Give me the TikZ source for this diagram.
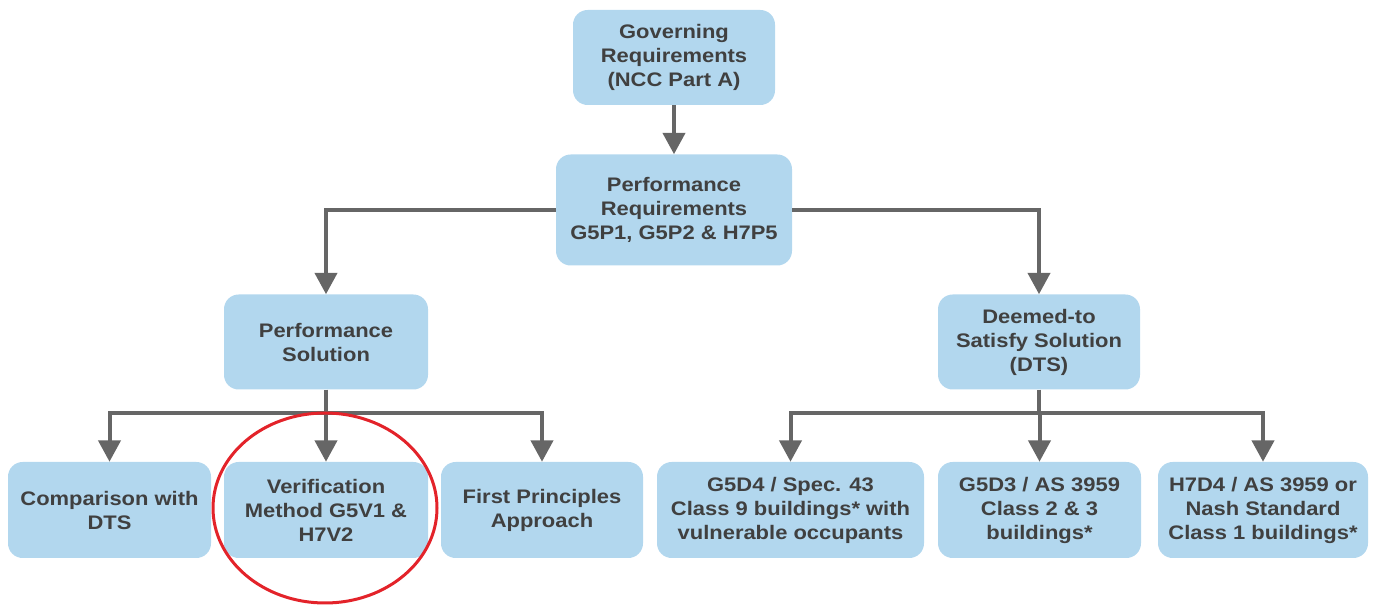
\documentclass[tikz,border=0pt]{standalone}
\usepackage{fontspec}
\setmainfont{Liberation Sans}[FakeStretch=1.12]
\usetikzlibrary{arrows.meta}
\definecolor{boxblue}{HTML}{B2D7EE}
\definecolor{txtgrey}{HTML}{404040}
\definecolor{arrgrey}{HTML}{666666}
\definecolor{ringred}{HTML}{E3232A}

\begin{document}
\begin{tikzpicture}[x=0.75pt, y=-0.75pt,
  box/.style={fill=boxblue, rounded corners=11pt, text=txtgrey, align=center,
    font=\bfseries\fontsize{14.7}{18}\selectfont, inner sep=0pt, minimum height=71.25pt},
  arr/.style={draw=arrgrey, line width=3pt, -{Triangle[width=16.5pt, length=16pt]}}]
\useasboundingbox (0,0) rectangle (1375,605);
\node[box, minimum width=151.5pt] (gov) at (674,57.5) {Governing\\Requirements\\(NCC Part A)};
\node[box, minimum width=177pt, minimum height=83.25pt] (perfreq) at (674,210) {Performance\\Requirements\\G5P1, G5P2 \& H7P5};
\node[box, minimum width=153pt] (perfsol) at (326,342) {Performance\\Solution};
\node[box, minimum width=151.5pt] (dts) at (1039,342) {Deemed-to\\Satisfy Solution\\(DTS)};
\foreach \nm/\cx/\bw/\txt in {comp/109.5/152.25/{Comparison with\\DTS},
    verif/326/153/{Verification\\Method G5V1 \&\\H7V2},
    first/542/151.5/{First Principles\\Approach},
    gfour/790.5/200.25/{G5D4 / Spec. 43\\Class 9 buildings* with\\vulnerable occupants},
    gthree/1039.5/152.25/{G5D3 / AS 3959\\Class 2 \& 3\\buildings*},
    hseven/1263/157.5/{H7D4 / AS 3959 or\\Nash Standard\\Class 1 buildings*}}
  \node[box, minimum width=\bw pt, minimum height=72pt] (\nm) at (\cx,510) {\txt};

\draw[arr] (gov) -- (perfreq);
\draw[arr] (perfreq.west) -| (perfsol);
\draw[arr] (perfreq.east) -| (dts);
\foreach \s in {comp, verif, first}
  \draw[arr] (perfsol.south) -- ++(0,23) -| (\s);
\foreach \s in {gfour, gthree, hseven}
  \draw[arr] (dts.south) -- ++(0,23) -| (\s);

% highlight
\draw[ringred, line width=2.25pt] (325,508) ellipse [x radius=112, y radius=95];
\end{tikzpicture}
\end{document}
